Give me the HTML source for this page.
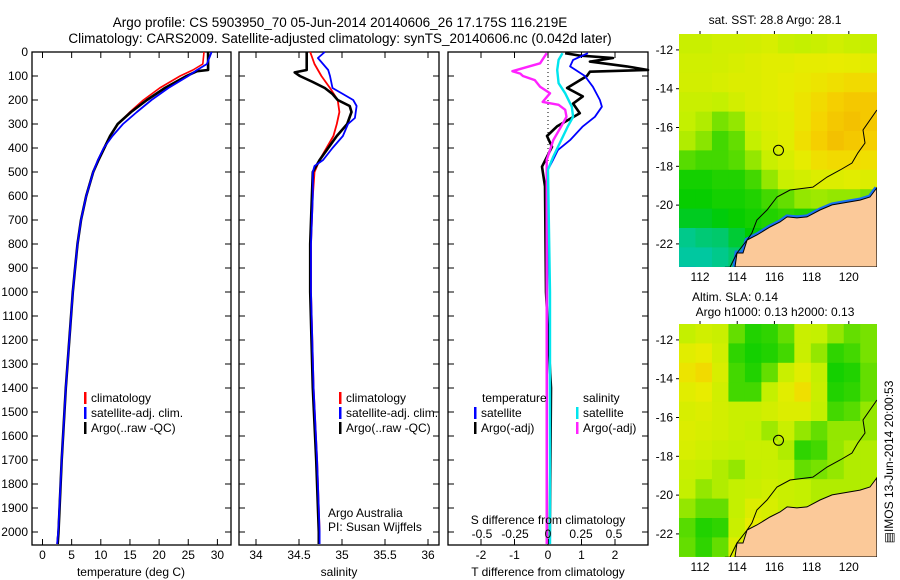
<!DOCTYPE html>
<html><head><meta charset="utf-8">
<style>
html,body{margin:0;padding:0;background:#fff;}
svg{display:block;font-family:"Liberation Sans",sans-serif;}
</style></head>
<body>
<svg id="fig" width="900" height="580" viewBox="0 0 900 580"></svg>
<script>
// ---- profile data ----
const tDepth=[0,50,75,80,100,150,200,250,300,350,400,450,500,600,700,800,900,1000,1400,1700,2000,2050];
const tArgo=[28.4,28.4,28.4,26.5,24.7,21.0,17.9,15.2,12.9,11.6,10.6,9.6,8.7,7.5,6.6,6.0,5.6,5.2,4.0,3.3,2.75,2.6];
const tClimDepth=[0,50,75,100,150,200,250,300,350,400,450,500,600,700,800,900,1000,1400,1700,2000,2050];
const tClim=[27.7,27.5,25.8,23.6,20.1,17.3,15.0,12.9,11.6,10.5,9.5,8.7,7.5,6.6,6.0,5.6,5.2,4.0,3.3,2.7,2.5];
const tSat=[29.0,28.2,26.5,25.0,21.6,18.7,16.2,13.8,12.0,10.5,9.5,8.7,7.5,6.6,6.0,5.6,5.2,4.0,3.3,2.7,2.5];

const sArgoDepth=[0,75,85,100,125,150,175,200,225,250,300,350,400,450,500,600,800,1000,1400,1700,2000,2050];
const sArgo=[34.59,34.59,34.45,34.51,34.66,34.80,34.89,34.95,35.09,35.11,35.06,34.94,34.84,34.74,34.66,34.65,34.63,34.63,34.66,34.70,34.73,34.73];
const sClimDepth=[0,50,100,150,200,250,300,350,400,450,500,600,800,1000,1400,1700,2000,2050];
const sClim=[34.63,34.68,34.76,34.86,34.95,34.97,34.94,34.90,34.82,34.74,34.68,34.66,34.64,34.64,34.67,34.71,34.74,34.74];
const sSatDepth=[0,25,75,100,150,175,200,225,275,300,350,400,450,475,500,600,800,1000,1400,1700,2000,2050];
const sSat=[34.80,34.72,34.84,34.86,34.89,35.01,35.13,35.17,35.15,35.07,35.01,34.89,34.78,34.68,34.66,34.66,34.64,34.64,34.67,34.71,34.74,34.74];

const dTArgoDepth=[5,15,25,40,60,75,82,100,150,185,215,255,310,350,395,478,560,1000,1400,2050];
const dTArgo=[0.51,0.95,1.94,1.25,2.35,3.0,1.25,1.16,0.57,1.04,0.75,0.95,0.27,-0.03,0.12,-0.18,-0.09,-0.06,0.09,0.05];
const dTSatDepth=[5,33,60,100,145,200,228,270,310,367,408,450,490,1000,2050];
const dTSat=[1.19,0.75,0.66,1.1,1.34,1.55,1.61,1.4,1.04,0.66,0.30,0.15,0.0,-0.02,-0.03];
const dSSatDepth=[5,33,75,130,172,228,270,310,367,436,490,1000,2050];
const dSSat=[0.11,0.08,0.07,0.08,0.13,0.18,0.19,0.15,0.10,0.04,0.0,0.015,0.015];
const dSArgoDepth=[5,47,80,90,100,117,145,172,208,220,241,270,310,367,450,1000,2050];
const dSArgo=[-0.01,-0.06,-0.27,-0.21,-0.19,-0.10,-0.06,0.015,-0.04,0.08,0.13,0.14,0.10,0.04,-0.01,-0.01,-0.01];

const depthTicks=[0,100,200,300,400,500,600,700,800,900,1000,1100,1200,1300,1400,1500,1600,1700,1800,1900,2000];
const tempTicks=[0,5,10,15,20,25,30];
const salTicks=[34,34.5,35,35.5,36];
const tdTicks=[-2,-1,0,1,2];
const sdTicks=[-0.5,-0.25,0,0.25,0.5];

// ---- map data ----
const coastLon=[121.5,121.14,120.6,119.69,119.1,118.45,117.75,117.21,116.68,116.3,115.76,115.06,114.53,114.31,113.99,113.88];
const coastLat=[-19.12,-19.58,-19.74,-19.89,-19.99,-20.25,-20.61,-20.66,-20.61,-20.87,-21.13,-21.54,-21.8,-22.47,-22.47,-23.19];
const isoLon=[121.51,120.76,120.87,120.49,120.17,119.53,118.83,118.07,116.84,116.14,115.6,115.06,114.79,114.53,113.99,113.61,113.34];
const isoLat=[-15.1,-16.13,-16.8,-17.31,-17.83,-18.19,-18.55,-19.07,-19.22,-19.58,-20.25,-20.77,-21.44,-21.8,-22.47,-23.2,-23.2];
const argoLon=116.219, argoLat=-17.175;
const lonTicks=[112,114,116,118,120];
const latTicks=[-12,-14,-16,-18,-20,-22];
const sstGrid=[
[.62,.62,.65,.65,.66,.68,.62,.60,.62,.65,.62,.60],
[.65,.65,.66,.68,.70,.72,.72,.74,.74,.75,.74,.72],
[.66,.66,.68,.70,.70,.72,.74,.76,.78,.80,.82,.82],
[.62,.62,.60,.66,.70,.72,.74,.78,.82,.86,.88,.88],
[.60,.58,.52,.55,.66,.70,.72,.78,.84,.88,.90,.88],
[.58,.54,.45,.50,.60,.68,.72,.80,.86,.90,.88,.86],
[.48,.45,.45,.48,.55,.62,.68,.74,.80,.82,.82,.80],
[.38,.38,.40,.40,.45,.55,.62,.66,.70,.70,.72,.70],
[.36,.36,.38,.38,.40,.45,.50,.55,.56,.55,.55,.52],
[.32,.32,.34,.36,.38,.40,.42,.40,.40,.38,.35,.30],
[.22,.24,.25,.30,.35,.38,.36,.30,.30,.30,.30,.30],
[.20,.20,.22,.25,.30,.32,.30,.30,.30,.30,.30,.30],
[.08,.20,.22,.25,.28,.30,.30,.30,.30,.30,.30,.30]];
const slaGrid=[
[.60,.65,.62,.50,.40,.42,.50,.62,.60,.55,.50,.52],
[.72,.75,.65,.42,.38,.40,.45,.62,.55,.42,.45,.52],
[.78,.82,.68,.45,.40,.50,.62,.72,.60,.38,.40,.50],
[.72,.75,.65,.45,.45,.60,.72,.80,.62,.40,.42,.50],
[.68,.70,.66,.62,.62,.66,.70,.70,.60,.45,.48,.55],
[.70,.68,.66,.62,.60,.56,.62,.55,.50,.55,.55,.55],
[.68,.65,.62,.60,.62,.62,.58,.42,.45,.55,.58,.58],
[.62,.60,.58,.55,.60,.62,.60,.50,.52,.55,.58,.58],
[.60,.55,.58,.60,.62,.65,.62,.60,.58,.58,.58,.58],
[.55,.50,.50,.60,.70,.68,.62,.60,.58,.58,.58,.58],
[.48,.40,.42,.62,.75,.70,.62,.60,.58,.58,.58,.58],
[.50,.42,.50,.70,.75,.68,.62,.60,.58,.58,.58,.58],
[.55,.50,.55,.72,.75,.68,.62,.60,.58,.58,.58,.58]];

const NS='http://www.w3.org/2000/svg';
const svg=document.getElementById('fig');
function mk(tag,attrs,parent){const e=document.createElementNS(NS,tag);for(const k in attrs)e.setAttribute(k,attrs[k]);(parent||svg).appendChild(e);return e;}
function txt(x,y,s,opts,parent){const e=mk('text',Object.assign({x:x,y:y,'font-size':12,fill:'#000'},opts||{}),parent);e.textContent=s;return e;}

const TOP=52, BOT=545;
const yD=d=>TOP+d*0.24;
const P1={l:32,r:231}, P2={l:239,r:439}, P3={l:448,r:648};
const xT=v=>42.5+v*5.83;
const xS=v=>256+(v-34)*86;
const xTD=v=>548+v*33.5;
const xSD=v=>548+v*132;

function drawPanel(P,name,xTicksArr,xf,labels){
  const g=mk('g',{});
  
  
  const r=mk('rect',{x:P.l,y:TOP,width:P.r-P.l,height:BOT-TOP,fill:'none',stroke:'#000','stroke-width':1.3},g);
  
  
  depthTicks.forEach(d=>{
    const y=yD(d);
    const t1=mk('line',{x1:P.l,x2:P.l+6,y1:y,y2:y,stroke:'#000'},g);
    
    
    const t2=mk('line',{x1:P.r,x2:P.r-6,y1:y,y2:y,stroke:'#000'},g);
    
    
  });
  xTicksArr.forEach((v,i)=>{
    const x=xf(v);
    const a=mk('line',{x1:x,x2:x,y1:TOP,y2:TOP+6,stroke:'#000'},g);
    
    
    const b=mk('line',{x1:x,x2:x,y1:BOT,y2:BOT-6,stroke:'#000'},g);
    
    
    if(labels){
      const l=txt(x,559,labels[i],{'text-anchor':'middle'},g);
      
      
    }
  });
  return g;
}
drawPanel(P1,'temperature-panel',tempTicks,xT,tempTicks.map(String));
depthTicks.forEach(d=>{
  const l=txt(28,yD(d)+4,String(d),{'text-anchor':'end'});
  
  
});
drawPanel(P2,'salinity-panel',salTicks,xS,salTicks.map(String));
drawPanel(P3,'difference-panel',tdTicks,xTD,tdTicks.map(String));

function line(depths,vals,xf,color,w,name,clip){
  const pts=depths.map((d,i)=>{let x=xf(vals[i]);if(clip)x=Math.max(clip[0],Math.min(clip[1],x));return x.toFixed(1)+','+yD(d).toFixed(1);}).join(' ');
  const p=mk('polyline',{points:pts,fill:'none',stroke:color,'stroke-width':w,'stroke-linejoin':'round'});
  
  
}
line(tClimDepth,tClim,xT,'#ff0000',1.6,'temp-climatology-line');
line(tDepth,tArgo,xT,'#000',2.6,'temp-argo-line');
line(tClimDepth,tSat,xT,'#0000ff',1.8,'temp-satellite-line');
line(sClimDepth,sClim,xS,'#ff0000',1.8,'sal-climatology-line');
line(sArgoDepth,sArgo,xS,'#000',2.6,'sal-argo-line');
line(sSatDepth,sSat,xS,'#0000ff',1.8,'sal-satellite-line');
const dz=mk('line',{x1:548,x2:548,y1:TOP,y2:yD(460),stroke:'#000','stroke-dasharray':'1,3'});


line(dTArgoDepth,dTArgo,xTD,'#000',2.6,'tdiff-argo-line',[P3.l,P3.r]);
line(dTSatDepth,dTSat,xTD,'#0000ff',1.8,'tdiff-satellite-line',[P3.l,P3.r]);
line(dSArgoDepth,dSArgo,xSD,'#ff22ff',2.4,'sdiff-argo-line',[P3.l,P3.r]);
line(dSSatDepth,dSSat,xSD,'#00e5ee',2.4,'sdiff-satellite-line',[P3.l,P3.r]);

function legend(x,y,color,label,name){
  const b=mk('rect',{x:x,y:y-10,width:2.5,height:12,fill:color});
  
  
  const t=txt(x+7,y,label);
  
  
}
legend(84,402,'#ff0000','climatology','legend-temp-climatology');
legend(84,417,'#0000ff','satellite-adj. clim.','legend-temp-satellite');
legend(84,432,'#000','Argo(..raw -QC)','legend-temp-argo');
legend(339,402,'#ff0000','climatology','legend-sal-climatology');
legend(339,417,'#0000ff','satellite-adj. clim.','legend-sal-satellite');
legend(339,432,'#000','Argo(..raw -QC)','legend-sal-argo');
let lt=txt(482,402,'temperature');
let ls=txt(583,402,'salinity');
legend(474,417,'#0000ff','satellite','legend-tdiff-satellite');
legend(474,432,'#000','Argo(-adj)','legend-tdiff-argo');
legend(576,417,'#00e5ee','satellite','legend-sdiff-satellite');
legend(576,432,'#ff22ff','Argo(-adj)','legend-sdiff-argo');

let a1=txt(328,517,'Argo Australia');
let a2=txt(328,531,'PI: Susan Wijffels');
let sdt=txt(548,524,'S difference from climatology',{'text-anchor':'middle'});
sdTicks.forEach(v=>{const l=txt(xSD(v),538,String(v),{'text-anchor':'middle'});});

let x1=txt(131,576,'temperature (deg C)',{'text-anchor':'middle'});
let x2=txt(339,576,'salinity',{'text-anchor':'middle'});
let x3=txt(548,576,'T difference from climatology',{'text-anchor':'middle'});

let tt1=txt(340,27,'Argo profile: CS 5903950_70 05-Jun-2014 20140606_26 17.175S 116.219E',{'text-anchor':'middle','font-size':13.5});

let tt2=txt(340,43,'Climatology: CARS2009. Satellite-adjusted climatology: synTS_20140606.nc (0.042d later)',{'text-anchor':'middle','font-size':13.5});


// ---- maps ----
const stops=[[0,[16,96,255]],[0.2,[0,200,160]],[0.35,[0,204,0]],[0.5,[100,222,0]],[0.6,[196,240,0]],[0.75,[232,236,0]],[0.85,[245,210,0]],[1,[240,160,0]]];
function cmap(v){for(let i=1;i<stops.length;i++){if(v<=stops[i][0]){const a=stops[i-1],b=stops[i];const t=(v-a[0])/(b[0]-a[0]);return 'rgb('+a[1].map((c,k)=>Math.round(c+(b[1][k]-c)*t)).join(',')+')';}}return 'rgb(240,160,0)';}
function drawMap(top,grid,name){
  const L=679,R=877,B=top+233;
  const lonX=lon=>L+(lon-110.87)*18.6;
  const latY=lat=>top+(-11.18-lat)*19.4;
  const g=mk('g',{});
  
  
  const cp=mk('clipPath',{id:name+'-clip'},g);
  mk('rect',{x:L,y:top,width:R-L,height:B-top},cp);
  const inner=mk('g',{'clip-path':'url(#'+name+'-clip)'},g);
  const cw=(121.5-110.87)/12;
  grid.forEach((row,ri)=>row.forEach((v,ci)=>{
    const x0=lonX(110.87+ci*cw), x1=lonX(110.87+(ci+1)*cw);
    const y0=latY(-11.18-ri), y1=latY(-12.18-ri);
    const c=mk('rect',{x:x0,y:y0,width:x1-x0+0.5,height:y1-y0+0.5,fill:cmap(v)},inner);
    
    
  }));
  let pts=coastLon.map((lo,i)=>lonX(lo).toFixed(1)+','+latY(coastLat[i]).toFixed(1));
  if(name==='sst-map'){
    const sh=mk('polyline',{points:pts.join(' '),fill:'none',stroke:'#1a70f0','stroke-width':5},inner);
    
    
  }
  const land=mk('polygon',{points:pts.join(' ')+' '+R+','+B,fill:'#fbc999',stroke:'#000','stroke-width':1},inner);
  
  
  const iso=mk('polyline',{points:isoLon.map((lo,i)=>lonX(lo).toFixed(1)+','+latY(isoLat[i]).toFixed(1)).join(' '),fill:'none',stroke:'#000','stroke-width':1},inner);
  
  
  const c=mk('circle',{cx:lonX(argoLon),cy:latY(argoLat),r:5,fill:'none',stroke:'#000','stroke-width':1},g);
  
  
  lonTicks.forEach(lo=>{
    const x=lonX(lo);
    const t=mk('line',{x1:x,x2:x,y1:top,y2:top-3,stroke:'#000'},g);
    
    
    const l=txt(x,B+14,String(lo),{'text-anchor':'middle'},g);
    
    
  });
  latTicks.forEach(la=>{
    const y=latY(la);
    const t=mk('line',{x1:L,x2:L-3,y1:y,y2:y,stroke:'#000'},g);
    
    
    const l=txt(673,y+4,String(la),{'text-anchor':'end'},g);
    
    
  });
}
drawMap(34,sstGrid,'sst-map');
drawMap(324,slaGrid,'sla-map');
let m1=txt(775,24,'sat. SST: 28.8 Argo: 28.1',{'text-anchor':'middle'});
let m2=txt(735,301,'Altim. SLA: 0.14',{'text-anchor':'middle'});
let m3=txt(775,316,'Argo h1000: 0.13 h2000: 0.13',{'text-anchor':'middle'});
let im=txt(0,0,'\u25a4IMOS 13-Jun-2014 20:00:53',{'text-anchor':'middle',transform:'translate(893,462) rotate(-90)'});

</script>
</body></html>
